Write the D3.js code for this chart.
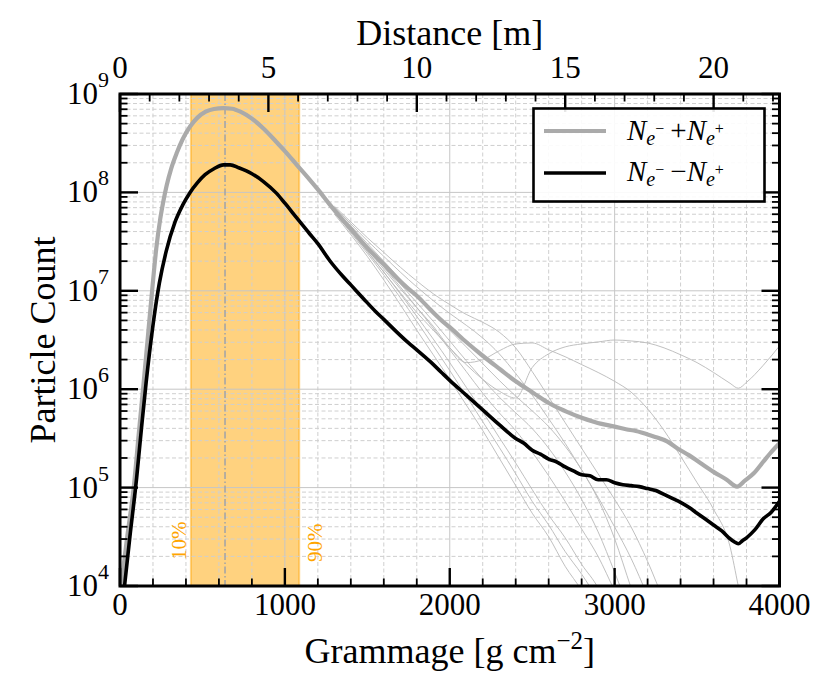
<!DOCTYPE html>
<html><head><meta charset="utf-8">
<script src="https://cdn.jsdelivr.net/npm/d3@7"></script>
</head><body style="margin:0">
<svg id="chart" width="830" height="694"><style>text{font-family:"Liberation Serif","Times New Roman",serif;}</style></svg>
<script>
// ---------------- DATA (log10 of particle count) ----------------
const gSum = [0,10,40,85,114,142,170,198,220,243,263,283,310,344,380,425,470,520,570,627,680,730,800,870,950,1000,1072,1150,1200,1275,1350,1400,1477,1550,1600,1679,1750,1800,1882,1950,2000,2100,2200,2307,2400,2509,2600,2671,2711,2800,2873,2914,3000,3075,3116,3200,3237,3318,3379,3450,3520,3600,3680,3743,3790,3844,3900,3950,4000];
const logSum = [3.9,4.04,4.45,5.03,5.55,6.04,6.55,7.06,7.43,7.72,7.91,8.07,8.24,8.40,8.54,8.67,8.76,8.82,8.848,8.857,8.85,8.82,8.75,8.65,8.51,8.42,8.28,8.13,8.03,7.87,7.72,7.63,7.48,7.35,7.27,7.13,7.02,6.95,6.81,6.70,6.63,6.48,6.34,6.20,6.08,5.96,5.86,5.80,5.77,5.71,5.67,5.65,5.62,5.59,5.58,5.54,5.52,5.47,5.40,5.33,5.25,5.16,5.08,5.01,5.07,5.145,5.26,5.36,5.45];

const gDiff = [0,30,60,101,130,158,200,239,280,334,380,425,470,516,570,627,668,720,800,870,950,1000,1072,1150,1200,1275,1350,1400,1477,1550,1600,1679,1750,1800,1882,1950,2000,2100,2200,2300,2400,2450,2500,2550,2600,2650,2700,2750,2800,2850,2900,2950,3000,3050,3100,3150,3200,3250,3300,3350,3400,3450,3500,3550,3600,3650,3700,3725,3750,3775,3800,3850,3900,3950,4000];
const logDiff = [3.55,4.04,4.5,5.1,5.6,6.06,6.65,7.08,7.4,7.7,7.87,8.0,8.1,8.18,8.24,8.28,8.28,8.25,8.19,8.11,7.99,7.89,7.74,7.58,7.48,7.30,7.15,7.06,6.92,6.79,6.71,6.58,6.47,6.40,6.28,6.17,6.09,5.94,5.79,5.64,5.50,5.45,5.38,5.34,5.29,5.26,5.21,5.17,5.13,5.12,5.08,5.08,5.05,5.03,5.02,5.01,4.99,4.97,4.93,4.89,4.85,4.80,4.74,4.68,4.62,4.56,4.48,4.45,4.43,4.46,4.49,4.57,4.68,4.75,4.86];

// individual showers (thin lines), shared grammage grid
const gThin = [1300,1400,1500,1600,1700,1800,1900,2000,2100,2200,2300,2400,2500,2600,2700,2800,2900,3000,3100,3200,3300,3400,3500,3600,3700,3750,3800,3900,4000];
const shower1 = [7.78,7.57,7.35,7.11,6.86,6.60,6.35,6.10,5.84,5.58,5.30,5.02,4.74,4.50,4.20,3.95,3.6,null,null,null,null,null,null,null,null,null,null,null,null];
const shower2 = [7.80,7.59,7.38,7.16,6.93,6.69,6.44,6.19,5.93,5.67,5.41,5.14,4.86,4.62,4.35,4.12,3.85,3.5,null,null,null,null,null,null,null,null,null,null,null];
const shower3 = [7.81,7.61,7.40,7.19,6.97,6.74,6.51,6.27,6.02,5.77,5.51,5.25,4.98,4.72,4.49,4.22,3.98,3.6,null,null,null,null,null,null,null,null,null,null,null];
const shower4 = [7.82,7.63,7.44,7.24,7.04,6.83,6.62,6.40,6.18,5.96,5.76,5.58,5.36,5.12,4.86,4.58,4.30,3.95,3.6,null,null,null,null,null,null,null,null,null,null];
const shower5 = [7.83,7.64,7.45,7.26,7.07,6.88,6.69,6.49,6.29,6.10,5.92,5.76,5.60,5.40,5.16,4.88,4.55,4.14,3.7,null,null,null,null,null,null,null,null,null,null];
const shower6 = [7.84,7.66,7.48,7.30,7.12,6.94,6.77,6.60,6.43,6.26,6.09,5.93,5.78,5.62,5.42,5.18,4.88,4.48,3.98,3.5,null,null,null,null,null,null,null,null,null];
const shower7 = [7.85,7.68,7.51,7.35,7.19,7.04,6.90,6.77,6.65,6.52,6.36,6.16,5.94,5.70,5.45,5.18,4.90,4.60,4.28,3.90,3.5,null,null,null,null,null,null,null,null];
const shower8 = [7.86,7.70,7.54,7.39,7.24,7.10,6.97,6.86,6.76,6.68,6.58,6.42,6.18,5.92,5.66,5.40,5.14,4.88,4.60,4.25,3.85,3.5,null,null,null,null,null,null,null];
const shower9 = [7.80,7.60,7.40,7.19,6.98,6.78,6.60,6.42,6.25,6.10,5.98,5.91,6.22,6.36,6.43,6.46,6.48,6.50,6.49,6.47,6.42,6.35,6.27,6.17,6.06,6.01,6.07,6.24,6.44];
const shower10 = [7.80,7.61,7.42,7.22,7.02,6.83,6.64,6.42,6.27,6.30,6.39,6.46,6.47,6.40,6.33,6.25,6.17,6.08,5.97,5.80,5.58,5.32,5.05,4.78,4.40,4.0,3.6,null,null];
const showers = [shower1,shower2,shower3,shower4,shower5,shower6,shower7,shower8,shower9,shower10];

const xMajor = [0,1000,2000,3000,4000];
const xTopMajor = [0,5,10,15,20];
const yDecades = [1e4,1e5,1e6,1e7,1e8,1e9];
const band = [430,1087];       // 10% and 90% grammage
const peakG = 637;
const distMax = 22.22;         // metres at 4000 g cm^-2

const legendLabels = [["\u2212","+","+"],["\u2212","\u2212","+"]];

// ---------------- LAYOUT ----------------
const L=120, R=779.5, T=94, B=586;
const FONT = "serif";
const svg = d3.select("#chart");
const x = d3.scaleLinear().domain([0,4000]).range([L,R]);
const xTop = d3.scaleLinear().domain([0,distMax]).range([L,R]);
const y = d3.scaleLog().domain([1e4,1e9]).range([B,T]);
const xMinor = d3.range(200,4000,200).filter(v=>v%1000!==0);
const xTopMinor = d3.range(1,23).filter(v=>v%5!==0 && v<=distMax);
const yMinor = [];
for (let e=4;e<9;e++) for (let m=2;m<=9;m++) yMinor.push(m*Math.pow(10,e));

function txt(parent, size){
  return parent.append("text").attr("font-size",size).attr("font-family",FONT).attr("fill","#000");
}

svg.append("defs").append("clipPath").attr("id","clip")
  .append("rect").attr("x",L).attr("y",T).attr("width",R-L).attr("height",B-T);

// band
svg.append("rect").attr("x",x(band[0])).attr("y",T).attr("width",x(band[1])-x(band[0])).attr("height",B-T)
  .attr("fill","#FFA500").attr("fill-opacity",0.5)
  .attr("stroke","#FFA500").attr("stroke-opacity",0.45).attr("stroke-width",2);

// grid
const grid = svg.append("g").attr("clip-path","url(#clip)");
grid.selectAll(".vmin").data(xMinor).join("line").attr("x1",d=>x(d)).attr("x2",d=>x(d)).attr("y1",T).attr("y2",B)
  .attr("stroke","#cfcfcf").attr("stroke-width",1).attr("stroke-dasharray","4,2.5");
grid.selectAll(".vmaj").data(xMajor).join("line").attr("x1",d=>x(d)).attr("x2",d=>x(d)).attr("y1",T).attr("y2",B)
  .attr("stroke","#c6c6c6").attr("stroke-width",1);
grid.selectAll(".hmin").data(yMinor).join("line").attr("y1",d=>y(d)).attr("y2",d=>y(d)).attr("x1",L).attr("x2",R)
  .attr("stroke","#cfcfcf").attr("stroke-width",1).attr("stroke-dasharray","4,2.5");
grid.selectAll(".hmaj").data(yDecades).join("line").attr("y1",d=>y(d)).attr("y2",d=>y(d)).attr("x1",L).attr("x2",R)
  .attr("stroke","#c6c6c6").attr("stroke-width",1);

// peak dash-dot line
svg.append("line").attr("x1",x(peakG)).attr("x2",x(peakG)).attr("y1",T).attr("y2",B)
  .attr("stroke","#a6a6a6").attr("stroke-width",1.6).attr("stroke-dasharray","7,2.5,1.5,2.5");

// percent labels
txt(svg,21).attr("transform",`translate(${x(band[0])-5},560) rotate(-90)`).attr("fill","#FFA500").text("10%");
txt(svg,21).attr("transform",`translate(${x(band[1])+23},562) rotate(-90)`).attr("fill","#FFA500").text("90%");

// curves
const plot = svg.append("g").attr("clip-path","url(#clip)");
const line = d3.line().defined(d=>d[1]!==null).x(d=>x(d[0])).y(d=>y(Math.pow(10,d[1]))).curve(d3.curveMonotoneX);
showers.forEach(s=>{
  plot.append("path").datum(gThin.map((g,i)=>[g,s[i]])).attr("d",line)
    .attr("fill","none").attr("stroke","#b9b9b9").attr("stroke-width",0.9);
});
plot.append("path").datum(gSum.map((g,i)=>[g,logSum[i]])).attr("d",line)
  .attr("fill","none").attr("stroke","#aaaaaa").attr("stroke-width",4.2);
plot.append("path").datum(gDiff.map((g,i)=>[g,logDiff[i]])).attr("d",line)
  .attr("fill","none").attr("stroke","#000").attr("stroke-width",3.6);

// ticks (inward, all four sides)
const MAJ=18, MIN=7.5;
const tk = svg.append("g").attr("stroke","#000");
tk.selectAll(".bM").data(xMajor).join("line").attr("x1",d=>x(d)).attr("x2",d=>x(d)).attr("y1",B).attr("y2",B-MAJ).attr("stroke-width",2.4);
tk.selectAll(".bm").data(xMinor).join("line").attr("x1",d=>x(d)).attr("x2",d=>x(d)).attr("y1",B).attr("y2",B-MIN).attr("stroke-width",1.8);
tk.selectAll(".tM").data(xTopMajor).join("line").attr("x1",d=>xTop(d)).attr("x2",d=>xTop(d)).attr("y1",T).attr("y2",T+MAJ).attr("stroke-width",2.4);
tk.selectAll(".tm").data(xTopMinor).join("line").attr("x1",d=>xTop(d)).attr("x2",d=>xTop(d)).attr("y1",T).attr("y2",T+MIN).attr("stroke-width",1.8);
tk.selectAll(".lM").data(yDecades).join("line").attr("y1",d=>y(d)).attr("y2",d=>y(d)).attr("x1",L).attr("x2",L+MAJ).attr("stroke-width",2.4);
tk.selectAll(".lm").data(yMinor).join("line").attr("y1",d=>y(d)).attr("y2",d=>y(d)).attr("x1",L).attr("x2",L+MIN).attr("stroke-width",1.8);
tk.selectAll(".rM").data(yDecades).join("line").attr("y1",d=>y(d)).attr("y2",d=>y(d)).attr("x1",R).attr("x2",R-MAJ).attr("stroke-width",2.4);
tk.selectAll(".rm").data(yMinor).join("line").attr("y1",d=>y(d)).attr("y2",d=>y(d)).attr("x1",R).attr("x2",R-MIN).attr("stroke-width",1.8);

// frame
svg.append("rect").attr("x",L).attr("y",T).attr("width",R-L).attr("height",B-T)
  .attr("fill","none").attr("stroke","#000").attr("stroke-width",3);

// tick labels
xMajor.forEach(v=>{ txt(svg,31).attr("x",x(v)).attr("y",615).attr("text-anchor","middle").text(String(v)); });
xTopMajor.forEach(v=>{ txt(svg,31).attr("x",xTop(v)).attr("y",78).attr("text-anchor","middle").text(String(v)); });
yDecades.forEach(v=>{
  const t = txt(svg,31).attr("x",109).attr("y",y(v)+10).attr("text-anchor","end");
  t.append("tspan").text("10");
  t.append("tspan").attr("font-size",22).attr("dy",-17).text(String(Math.round(Math.log10(v))));
});

// axis titles
const gx = txt(svg,36).attr("x",(L+R)/2).attr("y",663).attr("text-anchor","middle");
gx.append("tspan").text("Grammage [g cm");
gx.append("tspan").attr("font-size",25).attr("dy",-14).text("\u22122");
gx.append("tspan").attr("dy",14).text("]");
txt(svg,36).attr("x",(L+R)/2).attr("y",45).attr("text-anchor","middle").text("Distance [m]");
txt(svg,36).attr("transform",`translate(55,${(T+B)/2}) rotate(-90)`).attr("text-anchor","middle").text("Particle Count");

// legend
const lg = svg.append("g");
lg.append("rect").attr("x",533.5).attr("y",108.5).attr("width",231).attr("height",93)
  .attr("fill","#fff").attr("fill-opacity",0.9).attr("stroke","#000").attr("stroke-width",2.6);
const rows = [{c:"#aaaaaa",w:4.2,y:131,base:140,lab:legendLabels[0]},{c:"#000",w:3.6,y:173,base:181,lab:legendLabels[1]}];
rows.forEach(r=>{
  lg.append("line").attr("x1",544).attr("x2",606).attr("y1",r.y).attr("y2",r.y)
    .attr("stroke",r.c).attr("stroke-width",r.w);
  const t = txt(lg,29).attr("x",627).attr("y",r.base);
  t.append("tspan").attr("font-style","italic").text("N");
  t.append("tspan").attr("font-style","italic").attr("font-size",20).attr("dy",5).text("e");
  t.append("tspan").attr("font-size",16).attr("dy",-11).text(r.lab[0]);
  t.append("tspan").attr("dy",6).attr("dx",6).text(r.lab[1]);
  t.append("tspan").attr("font-style","italic").text("N");
  t.append("tspan").attr("font-style","italic").attr("font-size",20).attr("dy",5).text("e");
  t.append("tspan").attr("font-size",16).attr("dy",-11).text(r.lab[2]);
});
</script>
</body></html>
